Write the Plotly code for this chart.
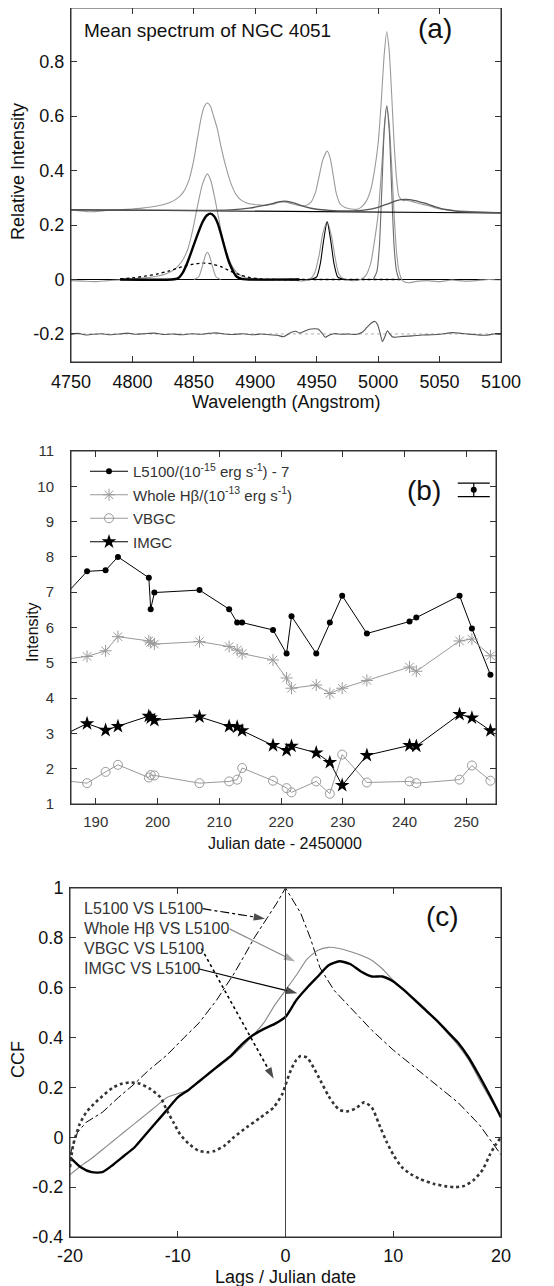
import plotly.graph_objects as go

# ---------------- Panel (a): mean spectrum ----------------
wl_top = [4750, 4758, 4765, 4772, 4780, 4790, 4800, 4808, 4815, 4822, 4830, 4836, 4841, 4846, 4850,
          4853, 4856, 4858.5, 4861, 4863.5, 4866, 4869, 4872, 4876, 4880, 4884, 4888, 4893, 4898,
          4903, 4908, 4914, 4920, 4925, 4930, 4935, 4940, 4945, 4949, 4952, 4955, 4958.5, 4961,
          4963.5, 4966, 4969, 4973, 4978, 4983, 4986, 4990, 4994, 4997, 5000, 5002.5, 5005, 5007,
          5009, 5011, 5013, 5015, 5017, 5020, 5023, 5028, 5034, 5040, 5046, 5052, 5060, 5070, 5080,
          5090, 5100]
int_top = [0.255, 0.252, 0.249, 0.250, 0.254, 0.256, 0.259, 0.262, 0.266, 0.272, 0.282, 0.296, 0.318,
           0.365, 0.440, 0.520, 0.595, 0.635, 0.648, 0.636, 0.600, 0.555, 0.490, 0.415, 0.355, 0.315,
           0.293, 0.281, 0.276, 0.274, 0.272, 0.276, 0.284, 0.284, 0.278, 0.272, 0.270, 0.282, 0.320,
           0.380, 0.440, 0.472, 0.445, 0.380, 0.315, 0.278, 0.264, 0.259, 0.258, 0.265, 0.285, 0.330,
           0.400, 0.500, 0.650, 0.830, 0.910, 0.840, 0.680, 0.500, 0.370, 0.305, 0.290, 0.290, 0.286,
           0.278, 0.272, 0.264, 0.258, 0.254, 0.251, 0.249, 0.247, 0.246]

wl_cont = [4750, 5100]
int_cont = [0.256, 0.244]

wl_fe = [4750, 4800, 4850, 4880, 4895, 4905, 4913, 4920, 4926, 4932, 4940, 4950, 4960, 4975, 4990,
         5000, 5008, 5015, 5022, 5030, 5038, 5046, 5055, 5065, 5080, 5100]
int_fe = [0.256, 0.255, 0.254, 0.256, 0.262, 0.270, 0.278, 0.286, 0.287, 0.280, 0.268, 0.258, 0.254,
          0.252, 0.256, 0.265, 0.278, 0.290, 0.294, 0.290, 0.280, 0.268, 0.257, 0.250, 0.247, 0.245]

wl_sub = [4750, 4760, 4770, 4780, 4790, 4800, 4810, 4820, 4828, 4835, 4840, 4845, 4849, 4853, 4857,
          4861, 4864, 4867, 4870, 4873, 4877, 4881, 4885, 4890, 4896, 4902, 4910, 4920, 4930, 4938,
          4944, 4948, 4952, 4955, 4958.5, 4962, 4965, 4968, 4972, 4980, 4986, 4990, 4994, 4997, 5000,
          5003, 5005, 5007, 5009, 5011, 5013, 5015, 5017, 5020, 5025, 5030, 5040, 5050, 5060, 5070,
          5080, 5090, 5100]
int_sub = [-0.004, -0.006, -0.008, -0.004, -0.002, 0.002, 0.006, 0.012, 0.022, 0.040, 0.065, 0.110,
           0.180, 0.270, 0.350, 0.388, 0.360, 0.300, 0.230, 0.160, 0.095, 0.050, 0.025, 0.010, 0.002,
           -0.002, -0.003, 0.000, -0.003, -0.005, 0.000, 0.020, 0.090, 0.170, 0.212, 0.160, 0.080,
           0.020, 0.002, -0.004, 0.000, 0.015, 0.060, 0.140, 0.240, 0.420, 0.560, 0.640, 0.570, 0.420,
           0.240, 0.100, 0.030, -0.005, -0.012, -0.008, -0.004, -0.008, -0.002, -0.006, -0.004, 0.000,
           -0.002]

wl_imgc = [4790, 4832, 4837, 4841, 4845, 4849, 4853, 4857, 4860.5, 4863.5, 4866.5, 4869.5, 4872.5,
           4875.5, 4878.5, 4882, 4885, 4889, 4895, 4936]
int_imgc = [0, 0, 0.004, 0.025, 0.065, 0.115, 0.165, 0.210, 0.235, 0.242, 0.232, 0.205, 0.160, 0.110,
            0.065, 0.030, 0.010, 0.002, 0, 0]

wl_vbgc = [4790, 4800, 4810, 4820, 4830, 4840, 4848, 4856, 4864, 4872, 4880, 4888, 4896, 4905, 4915,
           4940, 5020]
int_vbgc = [0.002, 0.006, 0.012, 0.020, 0.032, 0.046, 0.055, 0.060, 0.058, 0.047, 0.030, 0.016, 0.007,
            0.002, 0, 0, 0]

wl_narrow = [4850, 4854, 4857, 4859.5, 4861, 4862.5, 4865, 4868, 4872]
int_narrow = [0, 0.010, 0.050, 0.090, 0.100, 0.090, 0.050, 0.010, 0]

wl_o3a = [4945, 4950, 4953, 4955.5, 4958.5, 4961.5, 4964, 4967, 4972]
int_o3a = [0, 0.010, 0.060, 0.140, 0.212, 0.140, 0.060, 0.010, 0]

wl_o3b = [4996, 4999, 5001, 5003, 5005, 5007, 5009, 5011, 5013, 5015, 5017]
int_o3b = [0, 0.030, 0.120, 0.330, 0.550, 0.635, 0.550, 0.330, 0.120, 0.030, 0]

wl_res = [4750, 4756, 4762, 4768, 4775, 4782, 4790, 4796, 4803, 4810, 4818, 4825, 4833, 4840, 4848,
          4855, 4862, 4868, 4875, 4882, 4890, 4898, 4905, 4912, 4918, 4923, 4927, 4930, 4933, 4936,
          4940, 4944, 4948, 4951, 4954, 4957, 4960, 4964, 4970, 4976, 4982, 4987, 4991, 4995, 4997.5,
          4999.5, 5001.5, 5003.5, 5005.5, 5007.5, 5009.5, 5011.5, 5014, 5020, 5028, 5036, 5044, 5052,
          5060, 5066, 5072, 5080, 5088, 5094, 5100]
int_res = [-0.202, -0.198, -0.204, -0.201, -0.199, -0.203, -0.200, -0.197, -0.201, -0.199, -0.197,
           -0.202, -0.200, -0.203, -0.199, -0.201, -0.198, -0.196, -0.200, -0.202, -0.199, -0.203,
           -0.200, -0.203, -0.205, -0.210, -0.200, -0.193, -0.190, -0.197, -0.190, -0.183, -0.181,
           -0.182, -0.195, -0.212, -0.205, -0.199, -0.201, -0.200, -0.202, -0.194, -0.175, -0.158,
           -0.154, -0.165, -0.195, -0.228, -0.210, -0.188, -0.200, -0.210, -0.212, -0.209, -0.207,
           -0.204, -0.203, -0.200, -0.195, -0.197, -0.200, -0.203, -0.205, -0.200, -0.202]

wl_edges = [4750, 5100]
zero_level = [0, 0]
res_level = [-0.2, -0.2]

a_xticks = [4750, 4800, 4850, 4900, 4950, 5000, 5050, 5100]
a_yticks = [-0.2, 0, 0.2, 0.4, 0.6, 0.8]
a_ytext = ["-0.2", "0", "0.2", "0.4", "0.6", "0.8"]

# ---------------- Panel (b): light curves ----------------
jd = [185.0, 188.6, 191.6, 193.6, 198.6, 198.9, 199.5, 206.8, 211.6, 212.9, 213.7, 218.7, 220.9, 221.7,
      225.7, 227.9, 229.9, 233.9, 240.8, 241.9, 248.9, 250.9, 253.9]
l5100 = [6.91, 7.59, 7.62, 8.00, 7.41, 6.52, 6.99, 7.06, 6.52, 6.14, 6.14, 5.93, 5.26, 6.32, 5.26, 6.14,
         6.90, 5.83, 6.17, 6.28, 6.90, 5.97, 4.66]
hbeta = [5.10, 5.18, 5.34, 5.74, 5.62, 5.58, 5.53, 5.60, 5.46, 5.36, 5.26, 5.08, 4.57, 4.28, 4.37, 4.13,
         4.28, 4.50, 4.88, 4.76, 5.62, 5.67, 5.20]
vbgc = [1.66, 1.59, 1.91, 2.11, 1.75, 1.82, 1.81, 1.59, 1.64, 1.69, 2.02, 1.66, 1.45, 1.33, 1.64, 1.29,
        2.40, 1.61, 1.64, 1.59, 1.69, 2.09, 1.66]
imgc = [2.97, 3.28, 3.09, 3.20, 3.49, 3.44, 3.37, 3.47, 3.20, 3.18, 3.08, 2.66, 2.52, 2.64, 2.45, 2.18,
        1.53, 2.38, 2.66, 2.64, 3.54, 3.44, 3.08]
err_x = [251.2]
err_y = [9.9]
err_size = [0.19]
b_xticks = [190, 200, 210, 220, 230, 240, 250]
b_yticks = [1, 2, 3, 4, 5, 6, 7, 8, 9, 10, 11]

# ---------------- Panel (c): cross-correlation ----------------
lag_acf = [-20, -19.3, -18.5, -17, -15.5, -14, -12.8, -11, -9.4, -8, -6.4, -4.8, -3.8, -2.9, -1.7, -0.8,
           0, 0.7, 1.4, 2.3, 3.2, 4.5, 6, 8, 10, 12, 14, 16, 18, 19, 20]
ccf_acf = [-0.07, 0.02, 0.06, 0.10, 0.16, 0.215, 0.265, 0.33, 0.40, 0.46, 0.55, 0.655, 0.73, 0.80, 0.88,
           0.94, 1.0, 0.95, 0.90, 0.80, 0.68, 0.59, 0.52, 0.43, 0.35, 0.28, 0.21, 0.14, 0.05, -0.01, -0.07]

lag_grid = [-20, -19, -18, -17, -16, -15, -14, -13, -12, -11, -10, -9, -8, -7, -6, -5, -4, -3, -2, -1,
            0, 1, 2, 3, 4, 5, 6, 7, 8, 9, 10, 11, 12, 13, 14, 15, 16, 17, 18, 19, 20]
ccf_hbeta = [-0.15, -0.115, -0.085, -0.05, -0.015, 0.02, 0.055, 0.09, 0.125, 0.16, 0.175, 0.19, 0.225,
             0.26, 0.29, 0.325, 0.365, 0.41, 0.46, 0.53, 0.59, 0.65, 0.715, 0.75, 0.762, 0.757, 0.745,
             0.73, 0.71, 0.675, 0.63, 0.59, 0.555, 0.515, 0.47, 0.42, 0.37, 0.31, 0.23, 0.155, 0.08]
ccf_imgc = [-0.08, -0.12, -0.14, -0.14, -0.11, -0.075, -0.04, 0.01, 0.06, 0.11, 0.16, 0.19, 0.225, 0.26,
            0.295, 0.33, 0.375, 0.41, 0.435, 0.455, 0.483, 0.55, 0.60, 0.645, 0.69, 0.706, 0.695, 0.665,
            0.645, 0.645, 0.625, 0.59, 0.55, 0.51, 0.47, 0.425, 0.38, 0.32, 0.245, 0.165, 0.08]

lag_vbgc = [-20, -19.7, -19.1, -18.5, -17.8, -17, -16, -15.2, -14.4, -13.5, -12.6, -11.6, -11, -10.4, -9.8,
            -9, -8.1, -7.2, -6.6, -5.7, -4.8, -3.6, -2.3, -1.1, -0.3, 0, 0.5, 1, 1.4, 2, 2.6, 3.25, 4,
            4.5, 5, 5.7, 6.5, 7.3, 8, 8.8, 9.4, 10, 10.8, 11.6, 12.5, 13.8, 14.8, 15.7, 16.6, 17.5, 18.3,
            19, 19.5, 20]
ccf_vbgc = [-0.12, -0.03, 0.053, 0.10, 0.133, 0.165, 0.20, 0.215, 0.22, 0.215, 0.195, 0.16, 0.107, 0.06,
            0.013, -0.025, -0.053, -0.06, -0.055, -0.035, 0.0, 0.04, 0.08, 0.12, 0.173, 0.21, 0.27, 0.31,
            0.326, 0.32, 0.28, 0.227, 0.165, 0.133, 0.11, 0.104, 0.115, 0.14, 0.12, 0.04, -0.02, -0.07,
            -0.12, -0.147, -0.168, -0.187, -0.196, -0.20, -0.195, -0.17, -0.13, -0.067, -0.03, 0.0]

c_labels = ["L5100 VS L5100", "Whole Hβ VS L5100", "VBGC VS L5100", "IMGC VS L5100"]
c_label_y = [0.917, 0.836, 0.757, 0.676]
c_tail_x = [-7.7, -5.2, -7.8, -8.1]
c_tip_x = [-1.9, 0.9, -1.1, 1.1]
c_tip_y = [0.877, 0.705, 0.235, 0.578]
c_xticks = [-20, -10, 0, 10, 20]
c_yticks = [-0.4, -0.2, 0, 0.2, 0.4, 0.6, 0.8, 1]
c_ytext = ["-0.4", "-0.2", "0", "0.2", "0.4", "0.6", "0.8", "1"]
c_xtext = ["-20", "-10", "0", "10", "20"]

# ---------------- Figure ----------------
# the page's body keeps its default 8 px margin, so the figure is laid out in page pixels minus 8
OFF = 8
W, H = 554 - OFF, 1286 - OFF
FONT = "Liberation Sans, Arial, sans-serif"
LIGHT = "#9a9a9a"
DARK = "#555555"
FRAME = "#333333"


def xp(px):
    return (px - OFF) / W


def yp(py):
    return 1 - (py - OFF) / H


fig = go.Figure()


def line(x, y, ax, color, width=1.0, dash="solid", shape="spline"):
    fig.add_trace(go.Scatter(x=x, y=y, xaxis="x" + ax, yaxis="y" + ax, mode="lines",
                             line=dict(color=color, width=width, dash=dash, shape=shape, smoothing=0.6),
                             showlegend=False, hoverinfo="skip"))


# panel (a)
line(wl_edges, res_level, "", "#b0b0b0", 1, "dot", "linear")
line(wl_res, int_res, "", DARK, 1.1)
line(wl_edges, zero_level, "", "black", 1.2, "solid", "linear")
line(wl_sub, int_sub, "", LIGHT, 1.1)
line(wl_vbgc, int_vbgc, "", "black", 1.3, "dot")
line(wl_narrow, int_narrow, "", LIGHT, 1.1)
line(wl_imgc, int_imgc, "", "black", 2.4)
line(wl_o3a, int_o3a, "", "black", 1.1)
line(wl_o3b, int_o3b, "", "#6a6a6a", 1.1)
line(wl_top, int_top, "", LIGHT, 1.1)
line(wl_cont, int_cont, "", "black", 1.1, "solid", "linear")
line(wl_fe, int_fe, "", DARK, 1.3)

# panel (b)
b_series = [
    (l5100, "L5100/(10<sup>-15</sup> erg s<sup>-1</sup>) - 7", "black",
     dict(symbol="circle", size=6, color="black")),
    (hbeta, "Whole Hβ/(10<sup>-13</sup> erg s<sup>-1</sup>)", LIGHT,
     dict(symbol="asterisk-open", size=10, color=LIGHT, line=dict(color=LIGHT, width=1))),
    (vbgc, "VBGC", LIGHT,
     dict(symbol="circle-open", size=9, color=LIGHT, line=dict(color=LIGHT, width=1))),
    (imgc, "IMGC", "black", dict(symbol="star", size=11, color="black")),
]
for i, (vals, name, col, mk) in enumerate(b_series):
    fig.add_trace(go.Scatter(x=jd, y=vals, xaxis="x2", yaxis="y2", mode="lines+markers",
                             name=name, legendgroup="g%d" % i,
                             line=dict(color=col, width=1), marker=mk))
fig.add_trace(go.Scatter(x=err_x, y=err_y, xaxis="x2", yaxis="y2", mode="markers",
                         marker=dict(symbol="circle", size=6, color="black"),
                         error_y=dict(type="data", array=err_size, width=16, thickness=1.2,
                                      color="black"),
                         showlegend=False, hoverinfo="skip"))

# panel (c)
line(lag_acf, ccf_acf, "3", "black", 1, "dashdot", "linear")
line(lag_grid, ccf_hbeta, "3", "#8a8a8a", 1.1)
line(lag_grid, ccf_imgc, "3", "black", 2.4)
line(lag_vbgc, ccf_vbgc, "3", "#333333", 2.6, "dot")

# leader lines with arrow heads from the labels to the curves
styles = [("black", "dashdot", 1.2), ("#8a8a8a", "solid", 1.2), ("black", "dot", 1.6),
          ("black", "solid", 1.2)]
for tx, ty, hx, hy, (col, dsh, wd) in zip(c_tail_x, c_label_y, c_tip_x, c_tip_y, styles):
    fig.add_trace(go.Scatter(x=[tx, hx], y=[ty, hy], xaxis="x3", yaxis="y3", mode="lines+markers",
                             line=dict(color=col, width=wd, dash=dsh),
                             marker=dict(symbol="arrow", size=[0, 12], angleref="previous",
                                         color=col, line=dict(width=0)),
                             showlegend=False, hoverinfo="skip"))


def axis_common(**kw):
    d = dict(showgrid=False, zeroline=False, showline=True, linecolor=FRAME, linewidth=1,
             mirror="ticks", ticks="inside", ticklen=6, tickcolor=FRAME, tickwidth=1,
             automargin=False, tickfont=dict(family=FONT, size=18, color="#111"))
    d.update(kw)
    return d


fig.update_layout(
    template="none",
    width=W, height=H, margin=dict(l=0, r=0, t=0, b=0, pad=0),
    paper_bgcolor="white", plot_bgcolor="white",
    font=dict(family=FONT, color="#111"),
    xaxis=axis_common(domain=[xp(71), xp(501)], range=[4750, 5100], anchor="y",
                      tickmode="array", tickvals=a_xticks, ticklabelstandoff=3),
    yaxis=axis_common(domain=[yp(362), 1.0], range=[-0.303, 0.997], anchor="x",
                      tickmode="array", tickvals=a_yticks, ticktext=a_ytext, ticklabelstandoff=2),
    xaxis2=axis_common(domain=[xp(71), xp(496)], range=[186, 254.8], anchor="y2",
                       tickmode="array", tickvals=b_xticks, ticklabelstandoff=4,
                       tickfont=dict(family=FONT, size=15, color="#333")),
    yaxis2=axis_common(domain=[yp(804), yp(451)], range=[1, 11], anchor="x2",
                       tickmode="array", tickvals=b_yticks, ticklabelstandoff=13,
                       tickfont=dict(family=FONT, size=15, color="#333")),
    xaxis3=axis_common(domain=[xp(70), xp(501)], range=[-20, 20], anchor="y3",
                       tickmode="array", tickvals=c_xticks, ticktext=c_xtext, ticklabelstandoff=2),
    yaxis3=axis_common(domain=[yp(1237), yp(888)], range=[-0.4, 1.0], anchor="x3",
                       tickmode="array", tickvals=c_yticks, ticktext=c_ytext, ticklabelstandoff=2),
    legend=dict(x=xp(85), y=yp(455), xanchor="left", yanchor="top",
                bgcolor="rgba(0,0,0,0)", borderwidth=0, itemwidth=38, tracegroupgap=1,
                font=dict(family=FONT, size=15, color="#333")),
)

# frames around the three panels
for xa, ya in (("x", "y"), ("x2", "y2"), ("x3", "y3")):
    fig.add_shape(type="rect", xref=xa + " domain", yref=ya + " domain", x0=0, x1=1, y0=0, y1=1,
                  line=dict(color=FRAME, width=1), fillcolor="rgba(0,0,0,0)", layer="above")

# vertical zero-lag line
fig.add_shape(type="line", xref="x3", yref="y3", x0=0, x1=0, y0=-0.4, y1=1.0,
              line=dict(color="#444", width=1))

ann = []


def text(x, y, s, size, **kw):
    d = dict(x=x, y=y, text=s, showarrow=False, xanchor="center", yanchor="middle",
             font=dict(family=FONT, size=size, color="#111"))
    d.update(kw)
    ann.append(d)


P = dict(xref="paper", yref="paper")
text(xp(82), yp(30), "Mean spectrum of NGC 4051", 19, xanchor="left", **P)
text(xp(435), yp(28), "(a)", 28, **P)
text(xp(424), yp(490), "(b)", 28, **P)
text(xp(443), yp(916), "(c)", 28, **P)
text(xp(18), yp(172), "Relative Intensity", 18, textangle=-90, **P)
text(xp(286), yp(402), "Wavelength (Angstrom)", 18, **P)
text(xp(33), yp(632), "Intensity", 16, textangle=-90, **P)
text(xp(285), yp(843), "Julian date - 2450000", 16, **P)
text(xp(18), yp(1060), "CCF", 18, textangle=-90, **P)
text(xp(285), yp(1277), "Lags / Julian date", 18, **P)

for lab, ly in zip(c_labels, c_label_y):
    text(-18.9, ly, lab, 16, xref="x3", yref="y3", xanchor="left",
         font=dict(family=FONT, size=16, color="#333"))

fig.update_layout(annotations=ann)
fig.write_html("out.html")
